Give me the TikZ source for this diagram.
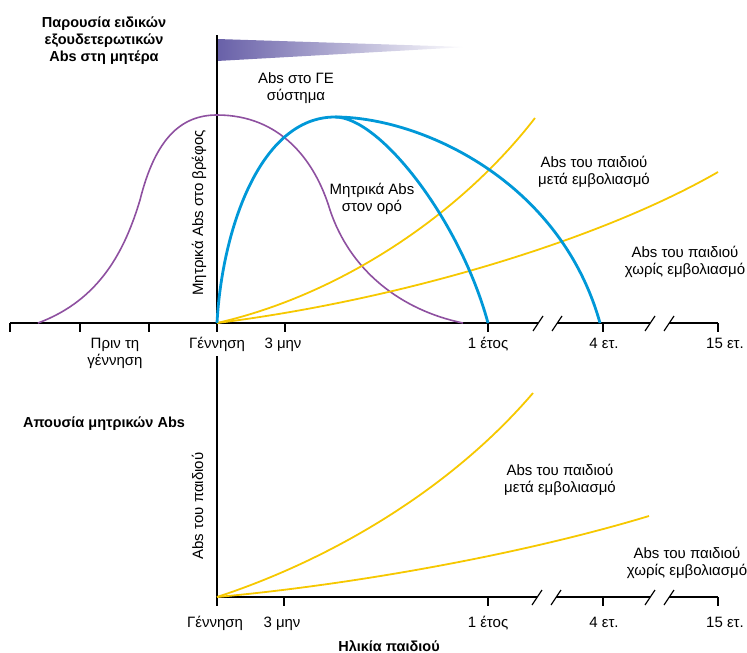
\documentclass[tikz,border=0pt]{standalone}
\usepackage{fontspec}
\setmainfont{Liberation Sans}
\usetikzlibrary{positioning}

\definecolor{abblue}{RGB}{0,152,216}
\definecolor{abpurple}{RGB}{142,80,160}
\definecolor{abyellow}{RGB}{246,200,0}
\definecolor{abshade}{RGB}{104,96,168}

\begin{document}
\begin{tikzpicture}[x=1pt,y=-1pt,
  txt/.style={font=\fontsize{15}{16.8}\selectfont, align=center, inner sep=0pt, anchor=base},
  ttl/.style={txt, font=\bfseries\fontsize{14.5}{17}\selectfont},
  axisline/.style={line width=1.2pt},
  blueline/.style={abblue, line width=2.8pt},
  purpleline/.style={abpurple, line width=1.6pt},
  yellowline/.style={abyellow, line width=1.8pt}]
\useasboundingbox (0,0) rectangle (747,653);

% upper chart
\coordinate (O1) at (217,323);
\shade[left color=abshade, right color=white] (217,39) -- (467,47) -- (217,61) -- cycle;
\draw[axisline] (217,35) -- (O1);
\draw[axisline] (10,323) -- (538,323) (557,323) -- (650,323) (669,323) -- (718,323);
\foreach \bx in {538,557,650,669}
  \draw[axisline] (\bx-5,331) -- (\bx+5,316);
\foreach \tx in {10,80,149,217,285,488,603,718}
  \draw[axisline] (\tx,323) -- ++(0,9);

\draw[purpleline] (38,323) .. controls (100,300) and (125,250) .. (140,200)
  .. controls (155,140) and (180,115) .. (217,115)
  .. controls (280,115) and (315,160) .. (330,210)
  .. controls (350,270) and (400,310) .. (463,323);
\draw[yellowline] (O1) .. controls (340,295) and (460,215) .. (535,118);
\draw[yellowline] (O1) .. controls (400,300) and (600,240) .. (718,172);
\draw[blueline] (O1) .. controls (222,230) and (260,117) .. (335,117)
  .. controls (380,117) and (460,220) .. (488,323);
\draw[blueline] (335,117) .. controls (420,117) and (560,180) .. (600,323);

% multi-line texts sit on their last line
\node[ttl] (present) at (104,61) {Παρουσία ειδικών\\εξουδετερωτικών\\Abs στη μητέρα};
\node[txt] (gesys) at (296,100) {Abs στο ΓΕ\\σύστημα};
\node[txt] (serum) at (372,211) {Μητρικά Abs\\στον ορό};
\node[txt] (vacc1) at (594,184) {Abs του παιδιού\\μετά εμβολιασμό};
\node[txt] (novacc1) at (685,274) {Abs του παιδιού\\χωρίς εμβολιασμό};
\node[txt, rotate=90] (ylab1) at (203,213) {Μητρικά Abs στο βρέφος};

\node[txt] (prebirth) at (115,365) {Πριν τη\\γέννηση};
\node[txt] (birth1) at (217,348) {Γέννηση};
\node[txt] (m3a) at (283,348) {3 μην};
\node[txt] (y1a) at (488,348) {1 έτος};
\node[txt] (y4a) at (604,348) {4 ετ.};
\node[txt] (y15a) at (725,348) {15 ετ.};

% lower chart
\coordinate (O2) at (217,597);
\draw[axisline] (217,356) -- (O2);
\draw[axisline] (O2) -- (537,597) (556,597) -- (650,597) (669,597) -- (718,597);
\foreach \bx in {537,556,650,669}
  \draw[axisline] (\bx-5,605) -- (\bx+5,590);
\foreach \tx in {217,284,488,603,718}
  \draw[axisline] (\tx,597) -- ++(0,9);

\draw[yellowline] (O2) .. controls (330,560) and (450,490) .. (533,393);
\draw[yellowline] (O2) .. controls (350,585) and (520,555) .. (649,516);

\node[ttl] (absent) at (104,427) {Απουσία μητρικών Abs};
\node[txt] (vacc2) at (560,492) {Abs του παιδιού\\μετά εμβολιασμό};
\node[txt] (novacc2) at (687,575) {Abs του παιδιού\\χωρίς εμβολιασμό};
\node[txt, rotate=90] (ylab2) at (203,506) {Abs του παιδιού};

\node[txt] (birth2) at (215,627) {Γέννηση};
\node[txt] (m3b) at (282,627) {3 μην};
\node[txt] (y1b) at (488,627) {1 έτος};
\node[txt] (y4b) at (604,627) {4 ετ.};
\node[txt] (y15b) at (725,627) {15 ετ.};
\node[ttl] (age) at (389,651) {Ηλικία παιδιού};
\end{tikzpicture}
\end{document}
